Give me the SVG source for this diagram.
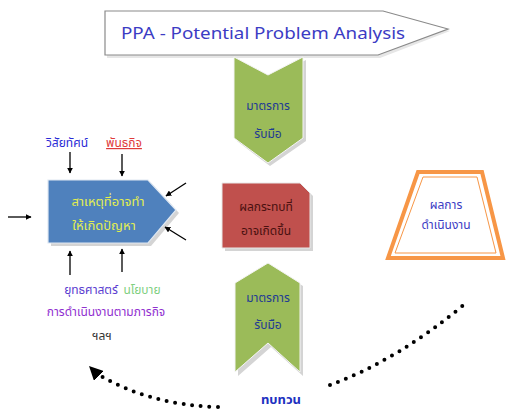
<svg xmlns="http://www.w3.org/2000/svg" width="513" height="412" viewBox="0 0 513 412">
  <style>
    .th { font-family: "Noto Sans Thai", "Tahoma", "DejaVu Sans", "Noto Sans", sans-serif; text-anchor: middle; }
    .small { font-size: 12px; }
    .lbl { font-size: 13px; }
    .arrow { stroke: #000; stroke-width: 1.3; fill: none; marker-end: url(#tip); }
    .dots { stroke: #000; stroke-width: 4; stroke-linecap: round; stroke-dasharray: 0 8.6; fill: none; }
    .shadow { fill: #d4d4d4; }
  </style>
  <defs>
    <marker id="tip" viewBox="0 0 10 10" refX="9" refY="5" markerWidth="6" markerHeight="6" orient="auto" markerUnits="userSpaceOnUse">
      <path d="M0,0 L10,5 L0,10 z" fill="#000"/>
    </marker>
    <marker id="bigtip" viewBox="0 0 10 10" refX="8" refY="5" markerWidth="14" markerHeight="14" orient="auto" markerUnits="userSpaceOnUse">
      <path d="M0,0 L10,5 L0,10 z" fill="#000"/>
    </marker>
  </defs>

  <!-- title banner -->
  <g id="banner">
    <polygon points="107,14 385,14 450,31 380,58 107,58" fill="#e6e6e6"/>
    <polygon points="105,11 383,11 448,29 378,55 105,55" fill="#fff" stroke="#8a8a8a" stroke-width="1.2"/>
    <text x="263" y="39" font-family="'Noto Sans', 'DejaVu Sans', sans-serif" font-size="17" fill="#3c3cc4" text-anchor="middle" textLength="284" lengthAdjust="spacingAndGlyphs">PPA - Potential Problem Analysis</text>
  </g>

  <!-- upper countermeasure chevron -->
  <g id="measure-top">
    <polygon points="237,60 270,77 306,60 306,141 270,166 237,141" class="shadow"/>
    <polygon points="234,57 268,75 303,57 303,138 268,163 234,138" fill="#9bbb59" stroke="#f4f4f4" stroke-width="1"/>
    <text class="th small" x="268" y="110" fill="#1f3a93">มาตรการ</text>
    <text class="th small" x="268" y="138" fill="#1f3a93">รับมือ</text>
  </g>

  <!-- impact box -->
  <g id="impact">
    <polygon points="225,186 303,186 313,196 313,251 225,251" class="shadow"/>
    <polygon points="222,183 300,183 310,193 310,248 222,248" fill="#c0504d" stroke="#e8e8e8" stroke-width="1"/>
    <text class="th small" x="266" y="211" fill="#4a1010">ผลกระทบที่</text>
    <text class="th small" x="266" y="235" fill="#4a1010">อาจเกิดขึ้น</text>
  </g>

  <!-- causes pentagon -->
  <g id="causes">
    <polygon points="51,183 151,183 179,213 151,246 51,246" class="shadow"/>
    <polygon points="48,180 148,180 176,210 148,243 48,243" fill="#4f81bd" stroke="#dfe8f2" stroke-width="1.2"/>
    <text class="th lbl" x="108" y="206" fill="#e4ee50">สาเหตุที่อาจทำ</text>
    <text class="th lbl" x="104" y="230" fill="#e4ee50">ให้เกิดปัญหา</text>
  </g>

  <!-- labels around the causes -->
  <g id="vision">
    <text class="th small" x="67" y="147" fill="#2a2ad6">วิสัยทัศน์</text>
  </g>
  <g id="mission">
    <text class="th small" x="124" y="147" fill="#e03a3a" text-decoration="underline">พันธกิจ</text>
  </g>
  <g id="strategy">
    <text class="th small" x="91" y="294" fill="#5a3cd0">ยุทธศาสตร์</text>
  </g>
  <g id="policy">
    <text class="th small" x="142" y="294" fill="#7fcf7f">นโยบาย</text>
  </g>
  <g id="operations">
    <text class="th small" x="106" y="316" fill="#9030d0">การดำเนินงานตามภารกิจ</text>
  </g>
  <g id="etc">
    <text class="th small" x="102" y="340" fill="#333">ฯลฯ</text>
  </g>

  <!-- performance trapezoid -->
  <g id="performance">
    <polygon points="418,172 482,172 503,258 388,258" fill="#fff" stroke="#f79646" stroke-width="4" stroke-linejoin="miter"/>
    <polygon points="423,177 477,177 496,253 395,253" fill="none" stroke="#f79646" stroke-width="1"/>
    <text class="th small" x="446" y="209" fill="#3c3cc4">ผลการ</text>
    <text class="th small" x="446" y="229" fill="#3c3cc4">ดำเนินงาน</text>
  </g>

  <!-- lower countermeasure chevron -->
  <g id="measure-bottom">
    <polygon points="271,266 303,286 303,376 271,347 238,376 238,286" class="shadow"/>
    <polygon points="268,263 300,283 300,372 268,343 235,372 235,283" fill="#9bbb59" stroke="#f4f4f4" stroke-width="1"/>
    <text class="th small" x="268" y="302" fill="#1f3a93">มาตรการ</text>
    <text class="th small" x="268" y="329" fill="#1f3a93">รับมือ</text>
  </g>

  <!-- review label -->
  <g id="review">
    <text class="th" x="281" y="404" font-size="13" font-weight="bold" fill="#2030c0">ทบทวน</text>
  </g>

  <!-- connectors -->
  <g id="connectors">
    <line class="arrow" x1="70" y1="152" x2="70" y2="173"/>
    <line class="arrow" x1="122" y1="154" x2="122" y2="176"/>
    <line class="arrow" x1="8" y1="217" x2="31" y2="217"/>
    <line class="arrow" x1="186" y1="183" x2="166" y2="196"/>
    <line class="arrow" x1="186" y1="240" x2="165" y2="227"/>
    <line class="arrow" x1="70" y1="275" x2="70" y2="251"/>
    <line class="arrow" x1="122" y1="272" x2="122" y2="249"/>
    <path class="dots" d="M330,385 Q398,360 466,303"/>
    <path class="dots" d="M218,407 Q148,405 96,373"/>
    <path d="M96,373 L91,368" stroke="#000" stroke-width="0.1" marker-end="url(#bigtip)"/>
  </g>
</svg>
